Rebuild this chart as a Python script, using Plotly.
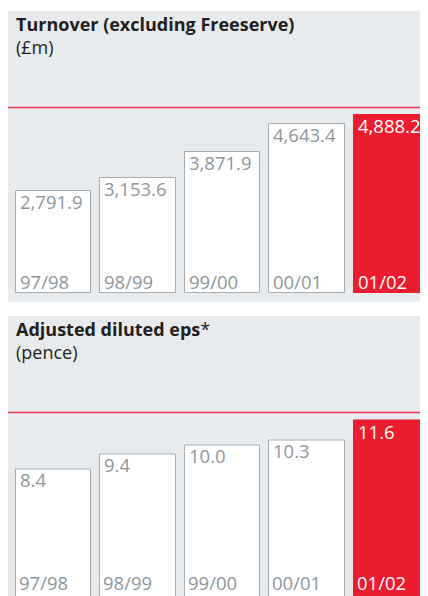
import plotly.graph_objects as go

years = ["97/98", "98/99", "99/00", "00/01", "01/02"]
turnover = [2791.9, 3153.6, 3871.9, 4643.4, 4888.2]
turnover_labels = ["2,791.9", "3,153.6", "3,871.9", "4,643.4", "4,888.2"]
eps = [8.4, 9.4, 10.0, 10.3, 11.6]
eps_labels = ["8.4", "9.4", "10.0", "10.3", "11.6"]

# page body has an 8px margin: figure covers window pixels 8..428 x 8..596
OFF = 8
W, H = 420, 588
RED = "#ed1b2e"
GREY_BG = "#e8ebed"
TXT = "#8c969b"
OUTLINE = "#a5abae"
DARK = "#231f20"
FONT = "Open Sans"

BAR_W = 0.895
PITCH = 84.5
xs = list(range(len(years)))
fills = ["white"] * 4 + [RED]
lines = [OUTLINE] * 4 + [RED]
tcol = [TXT] * 4 + ["white"]

def fx(px):
    return (px - OFF) / W

def fy(px):
    return 1 - (px - OFF) / H

fig = go.Figure()
fig.add_trace(go.Bar(x=xs, y=turnover, width=BAR_W, marker=dict(color=fills, line=dict(color=lines, width=1)),
                     xaxis="x", yaxis="y", hoverinfo="skip"))
fig.add_trace(go.Bar(x=xs, y=eps, width=BAR_W, marker=dict(color=fills, line=dict(color=lines, width=1)),
                     xaxis="x2", yaxis="y2", hoverinfo="skip"))

c0 = 53.5 - OFF
xr = [-c0 / PITCH, (W - c0) / PITCH]
s1 = 27.55
s2 = 1 / 15.2
ax = dict(showgrid=False, zeroline=False, showticklabels=False, showline=False, ticks="", fixedrange=True)
fig.update_layout(
    width=W, height=H, margin=dict(l=0, r=0, t=0, b=0),
    paper_bgcolor="white", plot_bgcolor="rgba(0,0,0,0)", showlegend=False, bargap=0,
    xaxis=dict(domain=[0, 1], range=xr, anchor="y", **ax),
    yaxis=dict(domain=[fy(301.7), fy(108)], range=[-(301.7 - 292.7) * s1, (292.7 - 108) * s1], anchor="x", **ax),
    xaxis2=dict(domain=[0, 1], range=xr, anchor="y2", **ax),
    yaxis2=dict(domain=[0, fy(412.5)], range=[(597 - 596) * s2, (597 - 412.5) * s2], anchor="x2", **ax),
)

shapes = [
    dict(type="rect", xref="paper", yref="paper", x0=0, x1=1, y0=fy(301.7), y1=fy(11),
         fillcolor=GREY_BG, line=dict(width=0), layer="below"),
    dict(type="rect", xref="paper", yref="paper", x0=0, x1=1, y0=0, y1=fy(316),
         fillcolor=GREY_BG, line=dict(width=0), layer="below"),
    dict(type="line", xref="paper", yref="paper", x0=0, x1=1, y0=fy(107.5), y1=fy(107.5),
         line=dict(color="#e8364a", width=1.5), layer="above"),
    dict(type="line", xref="paper", yref="paper", x0=0, x1=1, y0=fy(412.5), y1=fy(412.5),
         line=dict(color="#e8364a", width=1.5), layer="above"),
]
fig.update_layout(shapes=shapes)

ann = []
def title(text, sub, top):
    ann.append(dict(text="<b>%s</b><br>%s" % (text, sub), xref="paper", yref="paper", x=fx(14.5), y=fy(top),
                    xanchor="left", yanchor="top", align="left", borderpad=0, showarrow=False,
                    font=dict(family=FONT, size=18, color=DARK)))

title("Turnover (excluding Freeserve)", "(£m)", 11)
title("Adjusted diluted eps<span style='font-weight:normal'>*</span>", "(pence)", 316)

FS = 18.5
for i, (v, lab) in enumerate(zip(turnover, turnover_labels)):
    ann.append(dict(text=lab, xref="x", yref="y", x=i - BAR_W / 2, y=v,
                    xanchor="left", yanchor="top", xshift=2, yshift=4, showarrow=False,
                    font=dict(family=FONT, size=FS, color=tcol[i])))
    ann.append(dict(text=years[i], xref="x", yref="y", x=i - BAR_W / 2, y=0,
                    xanchor="left", yanchor="bottom", xshift=2, yshift=-3.5, showarrow=False,
                    font=dict(family=FONT, size=FS, color=tcol[i])))
for i, (v, lab) in enumerate(zip(eps, eps_labels)):
    ann.append(dict(text=lab, xref="x2", yref="y2", x=i - BAR_W / 2, y=v,
                    xanchor="left", yanchor="top", xshift=2, yshift=4, showarrow=False,
                    font=dict(family=FONT, size=FS, color=tcol[i])))
    ann.append(dict(text=years[i], xref="x2", yref="paper", x=i - BAR_W / 2, y=fy(596),
                    xanchor="left", yanchor="bottom", xshift=2, borderpad=0, showarrow=False,
                    font=dict(family=FONT, size=FS, color=tcol[i])))
fig.update_layout(annotations=ann)

fig.write_html("out.html")
